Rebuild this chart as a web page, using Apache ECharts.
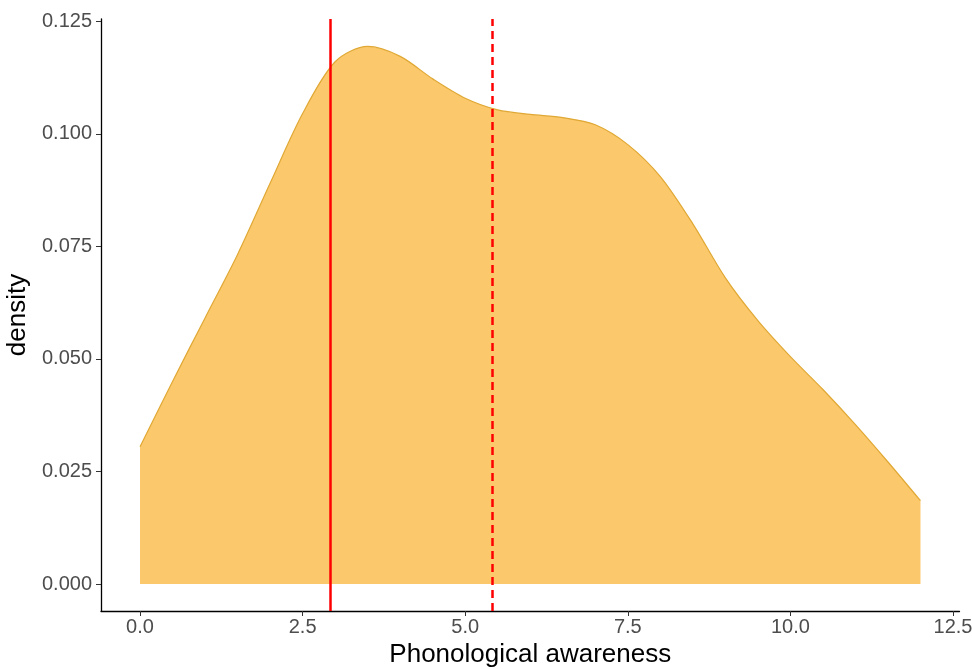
<!DOCTYPE html>
<html>
<head>
<meta charset="utf-8">
<script src="https://cdn.jsdelivr.net/npm/echarts@6/dist/echarts.min.js"></script>
<style>html,body{margin:0;padding:0;background:#fff}#c{width:972px;height:669px}</style>
</head>
<body>
<div id="c"></div>
<script>
// Density estimate of phonological awareness
const xValues = [0,0.5,1,1.5,2,2.5,3,3.5,4,4.5,5,5.5,6,6.5,7,7.5,8,8.5,9,9.5,10,10.5,11,11.5,12];
const densityValues = [0.0305,0.0450,0.0591,0.0732,0.0890,0.1045,0.1160,0.1194,0.1172,0.1122,0.1079,0.1053,0.1043,0.1036,0.1020,0.0976,0.0905,0.0800,0.0680,0.0585,0.0505,0.0432,0.0354,0.0271,0.0185];
const medianLine = 2.92;   // solid red
const meanLine = 5.42;     // dashed red
const xTicks = [0,2.5,5,7.5,10,12.5];
const yTicks = [0,0.025,0.05,0.075,0.1,0.125];

const chart = echarts.init(document.getElementById('c'));
const FONT = 'Liberation Sans, Arial, sans-serif';
const labelFont = {color:'#4d4d4d', fontSize:20, fontFamily:FONT};
chart.setOption({
  animation:false,
  backgroundColor:'#ffffff',
  grid:{left:101, right:12.5, top:19, bottom:58, containLabel:false, outerBoundsMode:'none'},
  xAxis:{
    type:'value', min:-0.6, max:12.6,
    name:'Phonological awareness', nameLocation:'middle', nameGap:30,
    nameTextStyle:{color:'#000', fontSize:26, fontFamily:FONT},
    axisLine:{show:true, onZero:false, lineStyle:{color:'#000', width:1.3}},
    axisTick:{show:true, length:5, customValues:xTicks, lineStyle:{color:'#333'}},
    axisLabel:Object.assign({customValues:xTicks, margin:6, formatter:v=>v.toFixed(1)}, labelFont),
    splitLine:{show:false}
  },
  yAxis:{
    type:'value', min:-0.006, max:0.1255,
    name:'density', nameLocation:'middle', nameGap:68,
    nameTextStyle:{color:'#000', fontSize:26, fontFamily:FONT},
    axisLine:{show:true, onZero:false, lineStyle:{color:'#000', width:1.3}},
    axisTick:{show:true, length:5, customValues:yTicks, lineStyle:{color:'#333'}},
    axisLabel:Object.assign({customValues:yTicks, margin:9, formatter:v=>v.toFixed(3)}, labelFont),
    splitLine:{show:false}
  },
  series:[{
    type:'line',
    data:xValues.map((x,i)=>[x,densityValues[i]]),
    smooth:0.3,
    symbol:'none',
    lineStyle:{color:'#e0a834', width:1.2},
    areaStyle:{color:'#fbc86b', opacity:1, origin:0},
    markLine:{
      silent:true, symbol:['none','none'], label:{show:false},
      data:[
        {xAxis:medianLine, lineStyle:{color:'#ff0000', width:2.5, type:'solid'}},
        {xAxis:meanLine, lineStyle:{color:'#ff0000', width:2.5, type:[8,5]}}
      ]
    },
    z:2
  }]
});
</script>
</body>
</html>
